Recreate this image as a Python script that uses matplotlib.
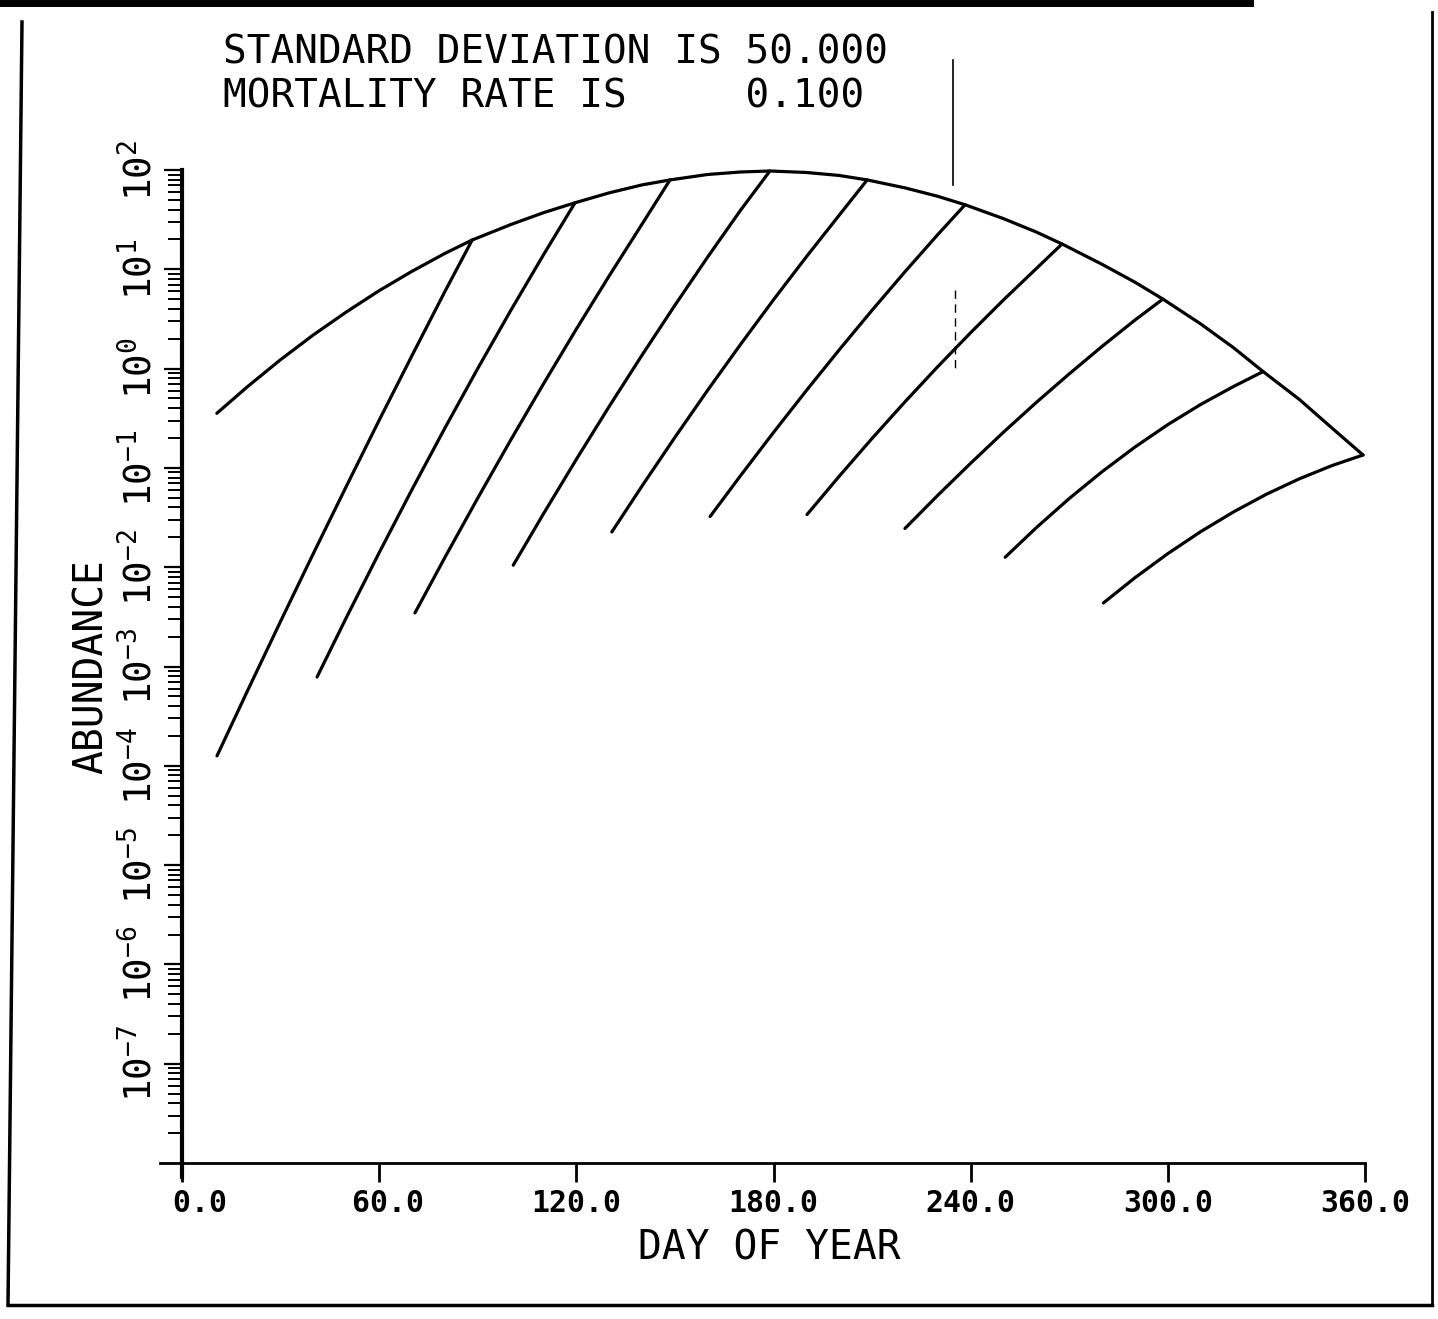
import numpy as np
import matplotlib
matplotlib.use("Agg")
import matplotlib.pyplot as plt
from matplotlib.ticker import FixedLocator, LogLocator, NullFormatter
from matplotlib.lines import Line2D

plt.rcParams['font.family'] = ['DejaVu Sans Mono', 'DejaVu Sans']

# ---------------- data ----------------
title_line1 = "STANDARD DEVIATION IS 50.000"
title_line2 = "MORTALITY RATE IS     0.100"
x_label = "DAY OF YEAR"
y_label = "ABUNDANCE"

x_ticks = [0, 60, 120, 180, 240, 300, 360]
x_tick_labels = ["  0.0", " 60.0", "120.0", "180.0", "240.0", "300.0", "360.0"]
y_exponents = [2, 1, 0, -1, -2, -3, -4, -5, -6, -7]

# envelope (day, log10 abundance)
envelope_day = [10.6, 20, 30, 40, 50, 60, 70, 80, 88.3, 100, 110, 119.6, 130, 140,
                148.5, 160, 170, 178.9, 190, 200, 208.5, 220, 230, 238.3, 250, 260,
                267.8, 280, 290, 298.5, 310, 320, 329, 340, 350, 359.4]
envelope_log = [-0.45, -0.18, 0.09, 0.34, 0.57, 0.785, 0.98, 1.16, 1.295, 1.45, 1.57,
                1.67, 1.77, 1.85, 1.90, 1.955, 1.98, 1.99, 1.975, 1.945, 1.90, 1.82,
                1.735, 1.65, 1.51, 1.375, 1.255, 1.05, 0.87, 0.70, 0.45, 0.21, -0.03,
                -0.31, -0.60, -0.87]

# cohort curves (day, log10 abundance)
cohort_days = [
    [10.65, 20, 30, 40, 50, 60, 70, 80, 88.3],
    [41.1, 50, 60, 70, 80, 90, 100, 110, 119.6],
    [70.9, 80, 90, 100, 110, 120, 130, 140, 148.5],
    [100.8, 110, 120, 130, 140, 150, 160, 170, 178.9],
    [130.8, 140, 150, 160, 170, 180, 190, 200, 208.5],
    [160.7, 170, 180, 190, 200, 210, 220, 230, 238.3],
    [190.2, 200, 210, 220, 230, 240, 250, 260, 267.8],
    [220.0, 230, 240, 250, 260, 270, 280, 290, 298.5],
    [250.5, 260, 270, 280, 290, 300, 310, 320, 329.0],
    [280.4, 290, 300, 310, 320, 330, 340, 350, 359.4],
]
cohort_logs = [
    [-3.90, -3.24, -2.545, -1.86, -1.186, -0.52, 0.132, 0.776, 1.295],
    [-3.106, -2.508, -1.854, -1.217, -0.599, 0.001, 0.583, 1.146, 1.67],
    [-2.46, -1.902, -1.304, -0.721, -0.154, 0.398, 0.934, 1.455, 1.90],
    [-1.98, -1.462, -0.914, -0.381, 0.136, 0.638, 1.125, 1.596, 1.99],
    [-1.645, -1.182, -0.692, -0.216, 0.245, 0.693, 1.126, 1.545, 1.90],
    [-1.49, -1.077, -0.643, -0.221, 0.189, 0.588, 0.975, 1.35, 1.65],
    [-1.47, -1.084, -0.703, -0.335, 0.02, 0.362, 0.692, 1.008, 1.255],
    [-1.61, -1.276, -0.953, -0.64, -0.34, -0.053, 0.224, 0.489, 0.70],
    [-1.90, -1.601, -1.308, -1.038, -0.79, -0.564, -0.361, -0.18, -0.03],
    [-2.36, -2.106, -1.863, -1.642, -1.443, -1.265, -1.11, -0.976, -0.87],
]

# ---------------- figure ----------------
W, H = 1438, 1319
fig = plt.figure(figsize=(W / 100, H / 100), dpi=100)
fig.patch.set_facecolor('white')

def fx(px):
    return px / W

def fy(py):
    return 1 - py / H

ax = fig.add_axes([fx(182), fy(1163), (1365 - 182) / W, (1163 - 170) / H])
ax.set_yscale('log')
ax.set_xlim(0, 360)
ax.set_ylim(1e-8, 1e2)

lw = 2.3
ax.plot(envelope_day, 10.0 ** np.array(envelope_log), color='black', lw=lw,
        solid_capstyle='round', solid_joinstyle='round', clip_on=False)
for d, l in zip(cohort_days, cohort_logs):
    ax.plot(d, 10.0 ** np.array(l), color='black', lw=lw,
            solid_capstyle='round', solid_joinstyle='round', clip_on=False)

for s in ['top', 'right']:
    ax.spines[s].set_visible(False)
ax.spines['left'].set_linewidth(3.0)
ax.spines['bottom'].set_linewidth(2.0)

# x axis
ax.set_xticks(x_ticks)
ax.set_xticklabels(x_tick_labels, fontsize=21.5, fontweight='bold')
ax.tick_params(axis='x', direction='out', length=14, width=2.0, pad=5)

# y axis
ax.yaxis.set_major_locator(FixedLocator([10.0 ** e for e in y_exponents]))
ax.set_yticklabels([r'$\mathregular{10^{%d}}$' % e for e in y_exponents],
                   rotation=90, va='center', fontsize=27)
ax.yaxis.set_minor_locator(LogLocator(base=10, subs=np.arange(2, 10), numticks=100))
ax.yaxis.set_minor_formatter(NullFormatter())
ax.tick_params(axis='y', which='major', direction='out', length=13, width=1.6, pad=3)
ax.tick_params(axis='y', which='minor', direction='out', length=10, width=1.4)

# axis labels
ax.set_xlabel(x_label, fontsize=28.5, va='center')
ax.xaxis.set_label_coords((769 - 182) / 1183, (1163 - 1249) / 993)
ax.set_ylabel(y_label, fontsize=28.5, va='center', ha='center')
ax.yaxis.set_label_coords((92 - 182) / 1183, 0.5)

# small axis-extension cross at origin
ax.add_line(Line2D([-0.019, 0], [0, 0], transform=ax.transAxes, color='black',
                   lw=2.0, clip_on=False))
ax.add_line(Line2D([0, 0], [0, -0.014], transform=ax.transAxes, color='black',
                   lw=3.0, clip_on=False))

# titles
fig.text(fx(223), fy(63), title_line1, fontsize=28.4, ha='left', va='baseline')
fig.text(fx(223), fy(107), title_line2, fontsize=28.4, ha='left', va='baseline')

# scanned-page frame
def fline(xs, ys, lwid, **kw):
    fig.add_artist(Line2D([fx(x) for x in xs], [fy(y) for y in ys],
                          transform=fig.transFigure, color='black', lw=lwid, **kw))

fline([0, 1250], [3, 3], 5)
fline([22, 8], [22, 1305], 2.5)
fline([8, 1432], [1305, 1305], 2.5)
fline([1432, 1432], [12, 1305], 2.0)
fline([953, 953], [60, 185], 1.2)
fline([955, 955], [290, 370], 1.0, ls=(0, (6, 4)))

fig.savefig('out.png', dpi=100, facecolor='white')
